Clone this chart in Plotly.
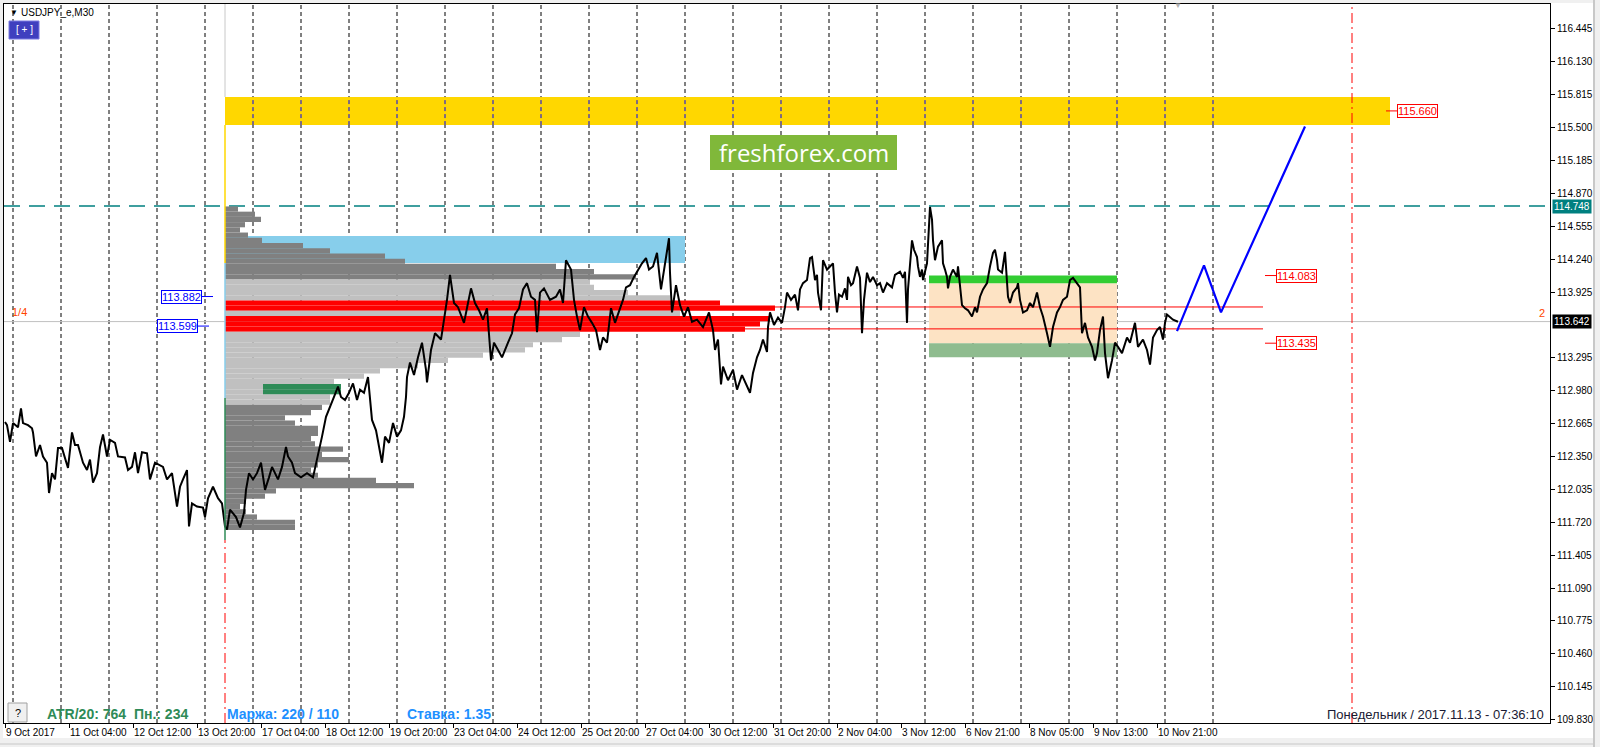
import plotly.graph_objects as go

# USDJPY_e M30, bar 0 = 9 Oct 2017 20:00 (1 bar = 30 min, weekends skipped)
bar_no = [0, 2, 5, 8, 13, 16, 18, 23, 27, 28, 31, 35, 38, 42, 44, 47, 50, 53, 57, 62,
          63, 67, 70, 73, 78, 82, 85, 88, 92, 95, 98, 102, 105, 110, 113, 120, 123, 127, 130, 133,
          137, 142, 145, 150, 158, 162, 167, 172, 175, 178, 182, 183, 184, 187, 192, 198, 200, 203, 208, 213,
          217, 220, 222, 225, 231, 235, 239, 241, 244, 248, 252, 256, 260, 264, 267, 273, 277, 281, 283, 287,
          290, 296, 302, 308, 313, 317, 321, 325, 329, 333, 336, 340, 344, 348, 352, 355, 359, 363, 365, 367,
          371, 375, 377, 380, 384, 388, 392, 396, 399, 401, 402, 405, 409, 413, 417, 421, 422, 426, 430, 436,
          442, 445, 449, 453, 457, 459, 463, 466, 470, 474, 478, 482, 486, 489, 493, 497, 503, 507, 510, 514,
          518, 522, 526, 530, 532, 535, 539, 545, 551, 555, 558, 561, 566, 569, 572, 575, 579, 583, 587, 591,
          595, 598, 602, 606, 610, 614, 618, 621, 625, 629, 633, 637, 641, 644, 648, 652, 656, 660, 664, 665,
          667, 671, 675, 679, 683, 687, 692, 698, 704, 708, 710, 713, 716, 718, 723, 728, 732, 737, 741, 745,
          748, 752, 755, 758, 762, 763, 765, 769, 773, 777, 780, 782, 786, 790, 793, 795, 798, 802, 805, 807,
          810, 812, 813, 816, 818, 822, 825, 828, 830, 832, 834, 837, 840, 842, 843, 846, 848, 852, 855, 857,
          859, 862, 865, 868, 872, 875, 878, 882, 887, 890, 895, 898, 900, 902, 903, 907, 909, 912, 913, 915,
          917, 918, 922, 923, 925, 927, 928, 930, 933, 937, 938, 940, 942, 943, 945, 948, 952, 953, 955, 957,
          960, 963, 967, 970, 972, 975, 978, 982, 985, 988, 990, 992, 993, 997, 1000, 1002, 1003, 1005, 1008, 1012,
          1013, 1015, 1018, 1022, 1025, 1028, 1032, 1035, 1038, 1042, 1045, 1048, 1052, 1055, 1058, 1062, 1065, 1068, 1072, 1075,
          1077, 1080, 1083, 1087, 1090, 1092, 1095, 1098, 1100, 1102, 1103, 1107, 1110, 1113, 1117, 1122, 1125, 1130, 1133, 1138,
          1142, 1145, 1148, 1152, 1155, 1158, 1160, 1162, 1165, 1168, 1173]
close_px = [112.68, 112.65, 112.49, 112.67, 112.63, 112.81, 112.67, 112.65, 112.62, 112.58, 112.35, 112.46, 112.35, 112.29, 112.00, 112.19, 112.13, 112.43, 112.43, 112.29,
            112.24, 112.58, 112.46, 112.46, 112.29, 112.22, 112.32, 112.10, 112.19, 112.44, 112.56, 112.35, 112.51, 112.48, 112.35, 112.34, 112.22, 112.25, 112.39, 112.19,
            112.39, 112.38, 112.13, 112.29, 112.25, 112.13, 112.19, 111.87, 112.06, 112.13, 112.22, 111.93, 111.68, 111.90, 111.87, 111.86, 111.77, 111.95, 112.06, 111.95,
            111.90, 111.68, 111.65, 111.84, 111.77, 111.67, 111.81, 112.03, 112.19, 112.13, 112.19, 112.29, 112.03, 112.15, 112.25, 112.13, 112.25, 112.44, 112.35, 112.29,
            112.19, 112.15, 112.19, 112.15, 112.35, 112.54, 112.73, 112.82, 112.92, 113.02, 112.92, 112.89, 112.96, 113.05, 112.89, 112.99, 112.96, 113.11, 112.92, 112.70,
            112.60, 112.41, 112.29, 112.54, 112.48, 112.67, 112.54, 112.60, 112.73, 112.92, 113.11, 113.25, 113.13, 113.30, 113.44, 113.18, 113.06, 113.37, 113.53, 113.47,
            113.85, 114.09, 113.82, 113.78, 113.69, 113.63, 113.82, 113.96, 113.82, 113.75, 113.66, 113.77, 113.27, 113.44, 113.37, 113.30, 113.44, 113.53, 113.71, 113.77,
            113.95, 114.01, 113.88, 113.85, 113.54, 113.92, 113.96, 113.85, 113.88, 113.95, 113.82, 114.23, 114.14, 113.85, 113.69, 113.56, 113.78, 113.69, 113.63, 113.56,
            113.37, 113.49, 113.44, 113.77, 113.63, 113.75, 113.85, 113.97, 113.99, 114.07, 114.14, 114.20, 114.25, 114.14, 114.17, 114.30, 113.95, 114.19, 114.44, 114.11,
            113.73, 113.99, 113.80, 113.69, 113.78, 113.64, 113.66, 113.59, 113.73, 113.56, 113.37, 113.47, 113.04, 113.21, 113.08, 113.18, 112.99, 113.13, 113.04, 112.96,
            113.15, 113.30, 113.37, 113.47, 113.35, 113.59, 113.73, 113.61, 113.68, 113.63, 113.78, 113.92, 113.85, 113.90, 113.75, 113.95, 114.01, 114.04, 114.25, 114.26,
            114.04, 114.09, 113.92, 113.75, 114.23, 114.14, 114.17, 114.20, 113.92, 113.73, 113.90, 113.88, 113.96, 113.85, 114.07, 113.99, 114.01, 114.17, 114.06, 113.53,
            113.85, 114.11, 114.02, 114.07, 113.99, 114.01, 113.92, 114.01, 113.97, 114.09, 114.12, 114.06, 114.12, 113.63, 113.95, 114.42, 114.33, 114.26, 114.17, 114.07,
            114.14, 114.04, 114.20, 114.36, 114.74, 114.62, 114.42, 114.23, 114.36, 114.42, 114.20, 114.14, 114.07, 113.96, 114.07, 114.14, 114.07, 114.17, 114.01, 113.80,
            113.77, 113.75, 113.69, 113.78, 113.73, 113.88, 113.95, 114.01, 114.17, 114.30, 114.33, 114.23, 114.14, 114.11, 114.31, 114.04, 113.88, 113.82, 113.92, 113.97,
            114.01, 113.85, 113.73, 113.75, 113.82, 113.78, 113.92, 113.78, 113.69, 113.53, 113.40, 113.59, 113.73, 113.78, 113.85, 113.88, 114.04, 114.06, 114.01, 113.97,
            113.53, 113.63, 113.49, 113.40, 113.27, 113.34, 113.56, 113.69, 113.34, 113.15, 113.10, 113.27, 113.44, 113.40, 113.34, 113.49, 113.44, 113.63, 113.40, 113.47,
            113.37, 113.23, 113.49, 113.56, 113.59, 113.47, 113.63, 113.71, 113.68, 113.66, 113.64]

# hand drawn forecast
fc_bar = [1172, 1199, 1216, 1300]
fc_px = [113.55, 114.18, 113.73, 115.51]

# volume profile starting 13 Oct 20:00
prof_start = 220
prof_price = [114.72, 114.67, 114.62, 114.57, 114.52, 114.47, 114.42, 114.37, 114.32, 114.27,
              114.22, 114.17, 114.12, 114.07, 114.02, 113.97, 113.92, 113.87, 113.82, 113.77,
              113.72, 113.67, 113.62, 113.57, 113.52, 113.47, 113.42, 113.37, 113.32, 113.27,
              113.22, 113.17, 113.12, 113.07, 113.02, 112.97, 112.92, 112.87, 112.82, 112.77,
              112.72, 112.67, 112.62, 112.57, 112.52, 112.47, 112.42, 112.37, 112.32, 112.27,
              112.22, 112.17, 112.12, 112.07, 112.02, 111.97, 111.92, 111.87, 111.82, 111.77,
              111.72, 111.67]
prof_len = [13, 30, 36, 20, 15, 23, 37, 78, 105, 160,
            180, 331, 369, 411, 365, 369, 403, 445, 495, 550,
            455, 545, 535, 520, 355, 337, 308, 300, 258, 223,
            193, 155, 139, 109, 116, 116, 105, 105, 97, 86,
            60, 70, 93, 93, 86, 90, 118, 97, 124, 93,
            86, 93, 151, 189, 51, 40, 21, 15, 21, 32,
            70, 70]
prof_zone = list("ddddddddddddddllllrrlrrrllllllllllggllddddddddddddddddddddddd")
prof_zone += ["d"] * (len(prof_price) - len(prof_zone))
green_from = 38

# levels / objects
yellow_zone = [115.524, 115.793]
blue_zone = [114.204, 114.462]
box_bars = [924, 1112]
box_levels = [114.083, 114.01, 113.435, 113.30]
high_line = 114.748
bid = 113.642
red_levels = [113.782, 113.572]
red_line_bars = [675, 1258]
va_labels = [113.882, 113.599]
yellow_label = 115.660

# axes
x_ticks = [0, 64, 128, 192, 256, 320, 384, 448, 512, 576, 640, 704, 768, 832, 896, 960, 1024, 1088, 1152]
x_text = ["9 Oct 2017", "11 Oct 04:00", "12 Oct 12:00", "13 Oct 20:00", "17 Oct 04:00", "18 Oct 12:00",
          "19 Oct 20:00", "23 Oct 04:00", "24 Oct 12:00", "25 Oct 20:00", "27 Oct 04:00", "30 Oct 12:00",
          "31 Oct 20:00", "2 Nov 04:00", "3 Nov 12:00", "6 Nov 21:00", "8 Nov 05:00", "9 Nov 13:00", "10 Nov 21:00"]
day_sep = [8, 56, 104, 152, 200, 248, 296, 344, 392, 440, 488, 536, 584, 632, 680, 728, 776, 824,
           872, 920, 968, 1016, 1064, 1112, 1160, 1208]
# 113.610 sits under the bid box, as in the terminal
y_ticks = [116.445, 116.130, 115.815, 115.500, 115.185, 114.870, 114.555, 114.240, 113.925,
           113.295, 112.980, 112.665, 112.350, 112.035, 111.720, 111.405, 111.090, 110.775, 110.460,
           110.145, 109.830]
x_range = [-1, 1545]
y_range = [109.797, 116.684]
cursor_bar = 1347

W, H = 1600, 747
ML, MR, MT, MB = 4, 50, 4, 24
FONT = "Liberation Sans"


def px(x):
    return (x - ML) / (W - ML - MR)


def py(y):
    return 1 - (y - MT) / (H - MT - MB)


zone_col = {"d": "#808080", "l": "#C0C0C0", "r": "#FF0000", "g": "#C0C0C0"}

fig = go.Figure()

fig.add_trace(go.Bar(
    y=prof_price, x=prof_len, base=prof_start, orientation="h", width=0.05,
    marker=dict(color=[zone_col[z] for z in prof_zone], line=dict(width=0)),
    hoverinfo="skip"))

g_price = [p for p, z in zip(prof_price, prof_zone) if z == "g"]
g_len = [n - green_from for n, z in zip(prof_len, prof_zone) if z == "g"]
fig.add_trace(go.Bar(
    y=g_price, x=g_len, base=prof_start + green_from, orientation="h", width=0.05,
    marker=dict(color="#2E8B57", line=dict(width=0)), hoverinfo="skip"))

fig.add_trace(go.Scatter(x=bar_no, y=close_px, mode="lines",
                         line=dict(color="black", width=2), hoverinfo="skip"))
fig.add_trace(go.Scatter(x=fc_bar, y=fc_px, mode="lines",
                         line=dict(color="#0000FF", width=2.2), hoverinfo="skip"))

shapes = []
# rectangles
shapes.append(dict(type="rect", x0=prof_start, x1=1385, y0=yellow_zone[0], y1=yellow_zone[1],
                   fillcolor="#FFD700", line=dict(width=0), layer="below"))
shapes.append(dict(type="rect", x0=prof_start, x1=680, y0=blue_zone[0], y1=blue_zone[1],
                   fillcolor="#87CEEB", line=dict(width=0), layer="below"))
shapes.append(dict(type="rect", x0=box_bars[0], x1=box_bars[1], y0=box_levels[2], y1=box_levels[1],
                   fillcolor="#FDE3C4", line=dict(width=0), layer="below"))
shapes.append(dict(type="rect", x0=box_bars[0], x1=box_bars[1], y0=box_levels[1], y1=box_levels[0],
                   fillcolor="#32CD32", line=dict(width=0), layer="below"))
shapes.append(dict(type="rect", x0=box_bars[0], x1=box_bars[1], y0=box_levels[3], y1=box_levels[2],
                   fillcolor="#8FBC8F", line=dict(width=0), layer="below"))

# day separators
for d in day_sep:
    shapes.append(dict(type="line", x0=d, x1=d, xref="x", yref="paper", y0=0, y1=1,
                       line=dict(color="black", width=1, dash="4px,3px"), layer="below"))
    if prof_start < d < 1385:
        shapes.append(dict(type="line", x0=d, x1=d, y0=yellow_zone[0], y1=yellow_zone[1],
                           line=dict(color="#0000FF", width=1, dash="4px,3px"), layer="below"))

# horizontal levels
shapes.append(dict(type="line", xref="paper", x0=0, x1=1, y0=bid, y1=bid,
                   line=dict(color="#C0C0C0", width=1), layer="below"))
shapes.append(dict(type="line", xref="paper", x0=0, x1=1, y0=high_line, y1=high_line,
                   line=dict(color="#008080", width=1.5, dash="16px,9px"), layer="below"))
for lv in red_levels:
    shapes.append(dict(type="line", x0=red_line_bars[0], x1=red_line_bars[1], y0=lv, y1=lv,
                       line=dict(color="#FF0000", width=1), layer="below"))

# profile edge
shapes.append(dict(type="line", x0=prof_start, x1=prof_start, y0=yellow_zone[1], y1=y_range[1],
                   line=dict(color="#C8C8C8", width=1)))
shapes.append(dict(type="line", x0=prof_start, x1=prof_start, y0=blue_zone[0], y1=yellow_zone[0],
                   line=dict(color="#FFD700", width=1.5)))
shapes.append(dict(type="line", x0=prof_start, x1=prof_start, y0=112.91, y1=blue_zone[0],
                   line=dict(color="#87CEEB", width=1.5)))
shapes.append(dict(type="line", x0=prof_start, x1=prof_start, y0=111.55, y1=112.91,
                   line=dict(color="#2E8B57", width=1.5)))
shapes.append(dict(type="line", x0=prof_start, x1=prof_start, y0=y_range[0], y1=111.55,
                   line=dict(color="#FF0000", width=1, dash="10px,4px,2px,4px")))
shapes.append(dict(type="line", x0=cursor_bar, x1=cursor_bar, xref="x", yref="paper", y0=0, y1=1,
                   line=dict(color="#FF0000", width=1, dash="10px,4px,2px,4px")))

# label stubs
shapes.append(dict(type="line", x0=1381, x1=1392, y0=yellow_label, y1=yellow_label,
                   line=dict(color="#FF0000", width=1)))
for lv in [box_levels[0], box_levels[2]]:
    shapes.append(dict(type="line", x0=1260, x1=1271, y0=lv, y1=lv, line=dict(color="#FF0000", width=1)))
shapes.append(dict(type="line", x0=197, x1=208, y0=va_labels[0], y1=va_labels[0],
                   line=dict(color="#0000FF", width=1)))
shapes.append(dict(type="line", x0=193, x1=204, y0=va_labels[1], y1=va_labels[1],
                   line=dict(color="#0000FF", width=1)))

# logo box and buttons (pixel placed UI)
shapes.append(dict(type="rect", xref="paper", yref="paper", x0=px(710), x1=px(897), y0=py(170), y1=py(135),
                   fillcolor="#80B83A", line=dict(width=0)))
shapes.append(dict(type="rect", xref="paper", yref="paper", x0=px(9), x1=px(39), y0=py(39), y1=py(21),
                   fillcolor="#3F3FBF", line=dict(color="#7B7BE0", width=1)))
shapes.append(dict(type="rect", xref="paper", yref="paper", x0=px(8), x1=px(27), y0=py(722), y1=py(703),
                   fillcolor="#F0F0F0", line=dict(color="#A0A0A0", width=1)))
# window frame
for x0, x1, y0, y1 in [(0, 3, 0, H), (0, W, 0, 3), (1593, W, 0, H), (0, W, 738, H)]:
    shapes.append(dict(type="rect", xref="paper", yref="paper", x0=px(x0), x1=px(x1), y0=py(y1), y1=py(y0),
                       fillcolor="#F0F0F0", line=dict(width=0)))
shapes.append(dict(type="line", xref="paper", yref="paper", x0=px(1594), x1=px(1594), y0=py(747), y1=py(0),
                   line=dict(color="#A0A0A0", width=1)))
shapes.append(dict(type="line", xref="paper", yref="paper", x0=px(0), x1=px(1594), y0=py(744), y1=py(744),
                   line=dict(color="#C8C8C8", width=1)))

ann = []


def label(x, y, text, size=11, color="black", xanchor="left", xref="paper", yref="paper", **kw):
    ann.append(dict(x=x, y=y, xref=xref, yref=yref, text=text, showarrow=False, xanchor=xanchor,
                    yanchor="middle", font=dict(family=FONT, size=size, color=color), **kw))


label(px(8), py(12), "▼", size=8)
label(px(19), py(12.5), "USDJPY_e,M30", size=10)
label(px(24), py(30), "[ + ]", size=10, color="white", xanchor="center")
label(px(17.5), py(713), "?", size=11, xanchor="center")
label(px(803.5), py(152.5), "freshforex.com", size=24, color="white", xanchor="center")
ann[-1]["font"]["family"] = "Open Sans"
label(px(45), py(714), "<b>ATR/20: 764\u00a0\u00a0Пн.: 234</b>", size=14, color="#2E8B57")
label(px(225), py(714), "<b>Маржа: 220 / 110</b>", size=14, color="#1E90FF")
label(px(405), py(714), "<b>Ставка: 1.35</b>", size=14, color="#1E90FF")
label(px(1546), py(714), "Понедельник / 2017.11.13 - 07:36:10", size=13, color="#1A1A33", xanchor="right")
label(px(10), py(312), "1/4", color="#FF4500")
label(px(1547), py(313), "2", color="#FF4500", xanchor="right")
label(px(1178), py(6), "▼", size=8, color="#B0B0B0", xanchor="center")

# right axis boxes
label(1, high_line, "114.748", size=10, color="white", yref="y", bgcolor="#008080", borderpad=1, xshift=2)
label(1, bid, "113.642", size=10, color="white", yref="y", bgcolor="#000000", borderpad=1, xshift=2)

# object price labels
for x, lv in [(1392, yellow_label), (1271, box_levels[0]), (1271, box_levels[2])]:
    label(x, lv, f"{lv:.3f}", color="#FF0000", xref="x", yref="y", bgcolor="white",
          bordercolor="#FF0000", borderwidth=1, borderpad=0)
for x, lv in [(197, va_labels[0]), (193, va_labels[1])]:
    label(x, lv, f"{lv:.3f}", color="#0000FF", xref="x", yref="y", xanchor="right", bgcolor="white",
          bordercolor="#0000FF", borderwidth=1, borderpad=0)

fig.update_layout(
    width=W, height=H, margin=dict(l=ML, r=MR, t=MT, b=MB, autoexpand=False),
    paper_bgcolor="white", plot_bgcolor="white", showlegend=False, barmode="overlay",
    shapes=shapes, annotations=ann,
    font=dict(family=FONT, size=10, color="black"),
)
fig.update_xaxes(range=x_range, tickvals=x_ticks, ticktext=x_text, ticks="outside", ticklen=4,
                 tickcolor="black", ticklabelposition="outside right", tickangle=0, automargin=False,
                 showgrid=False, zeroline=False, showline=True, mirror=True, linecolor="black", linewidth=1,
                 tickfont=dict(family=FONT, size=10, color="black"))
fig.update_yaxes(range=y_range, side="right", tickvals=y_ticks, ticktext=[f"{v:.3f}" for v in y_ticks],
                 ticks="outside", ticklen=4, tickcolor="black", automargin=False,
                 showgrid=False, zeroline=False, showline=True, mirror=True, linecolor="black", linewidth=1,
                 tickfont=dict(family=FONT, size=10, color="black"))

fig.write_html("out.html", config={"displayModeBar": False},
               post_script="document.body.style.margin='0';")
